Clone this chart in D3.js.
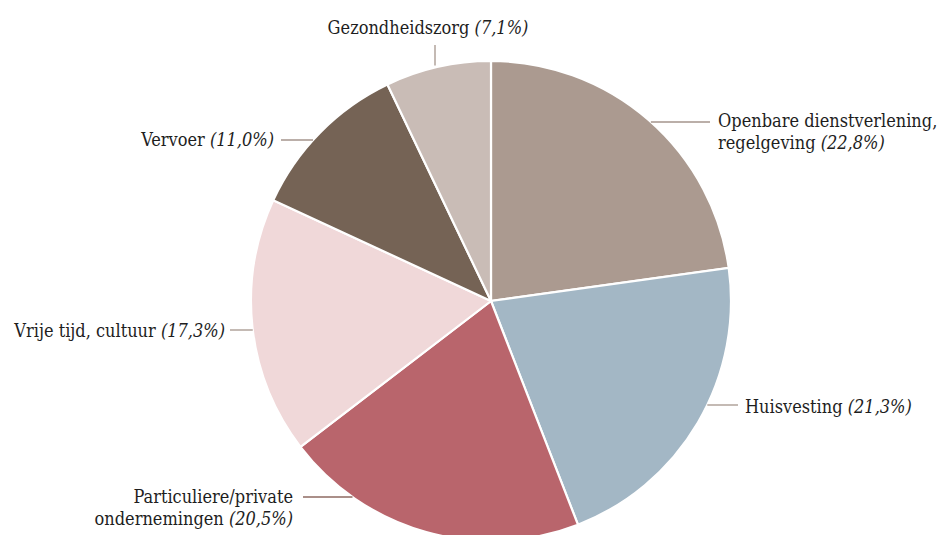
<!DOCTYPE html>
<html>
<head>
<meta charset="utf-8">
<script src="https://cdn.jsdelivr.net/npm/d3@7"></script>
<style>
  body { margin: 0; background: #fff; }
  .pct { font-style: italic; }
</style>
</head>
<body>
<div class="chart"></div>
<script>
(function(){

// data
var categories = ["Openbare dienstverlening, regelgeving",
                  "Huisvesting",
                  "Particuliere/private ondernemingen",
                  "Vrije tijd, cultuur",
                  "Vervoer",
                  "Gezondheidszorg"];
var shares = [22.8, 21.3, 20.5, 17.3, 11.0, 7.1];
var labelLines = [["Openbare dienstverlening,", "regelgeving"],
                  ["Huisvesting"],
                  ["Particuliere/private", "ondernemingen"],
                  ["Vrije tijd, cultuur"],
                  ["Vervoer"],
                  ["Gezondheidszorg"]];

var colors = ["#ab9a90", "#a3b7c5", "#b9656c", "#f0d8d9", "#756355", "#c9bcb6"];

// label placement (layout only)
var labelLayout = [
    {side: "right", lineY: 122, textX: 718, textY: 127, lineEnd: 710},
    {side: "right", lineY: 405, textX: 745, textY: 413, lineEnd: 738},
    {side: "left",  lineY: 497, textX: 293, textY: 503, lineEnd: 303},
    {side: "left",  lineY: 330, textX: 225, textY: 337, lineEnd: 230},
    {side: "left",  lineY: 140, textX: 274, textY: 146, lineEnd: 281},
    {side: "top",   lineX: 435, textX: 428, textY: 34,  lineEnd: 45}
];

var width = 937,
    height = 535,
    cx = 491,
    cy = 301,
    radius = 240;

var svg = d3.select(".chart")
    .append("svg")
    .attr("width", width)
    .attr("height", height);

var g = svg.append("g")
    .attr("transform", "translate(" + cx + "," + cy + ")");

var pie = d3.pie()
    .sort(null)
    .value(function(d){ return d; });

var arc = d3.arc()
    .innerRadius(0)
    .outerRadius(radius);

var fmt = function(v){ return "(" + d3.format(".1f")(v).replace(".", ",") + "%)"; };

g.selectAll(".slice")
    .data(pie(shares))
    .enter()
    .append("path")
    .attr("class", "slice")
    .attr("d", arc)
    .style("fill", function(d, i){ return colors[i]; })
    .style("stroke", "#fff")
    .style("stroke-width", "2.2px");

// leader lines: from pie edge outward
labelLayout.forEach(function(lay, i){
    var x1, y1, x2, y2;
    if (lay.side === "top") {
        var dx = lay.lineX - cx;
        x1 = x2 = lay.lineX;
        y1 = cy - Math.sqrt(radius * radius - dx * dx) - 2;
        y2 = lay.lineEnd;
    } else {
        var dy = lay.lineY - cy;
        var ex = Math.sqrt(radius * radius - dy * dy);
        y1 = y2 = lay.lineY;
        x1 = lay.side === "right" ? cx + ex : cx - ex;
        x2 = lay.lineEnd;
    }
    svg.append("line")
        .attr("x1", x1).attr("y1", y1)
        .attr("x2", x2).attr("y2", y2)
        .style("stroke", i === 2 ? "#8e6a62" : "#a5958c")
        .style("stroke-width", 1.3);

    var anchor = lay.side === "right" ? "start" : (lay.side === "left" ? "end" : "middle");
    var t = svg.append("text")
        .attr("x", lay.textX)
        .attr("y", lay.textY)
        .attr("text-anchor", anchor)
        .attr("font-family", "'DejaVu Serif Condensed', 'DejaVu Serif', serif")
        .attr("font-stretch", "condensed")
        .attr("font-size", "18px")
        .attr("fill", "#1e1e1e");
    var lines = labelLines[i];
    lines.forEach(function(ln, j){
        var ts = t.append("tspan")
            .attr("x", lay.textX)
            .attr("dy", j === 0 ? 0 : 22);
        ts.append("tspan").text(ln);
        if (j === lines.length - 1) {
            ts.append("tspan").attr("class", "pct").text(" " + fmt(shares[i]));
        }
    });
});

})();
</script>
</body>
</html>
